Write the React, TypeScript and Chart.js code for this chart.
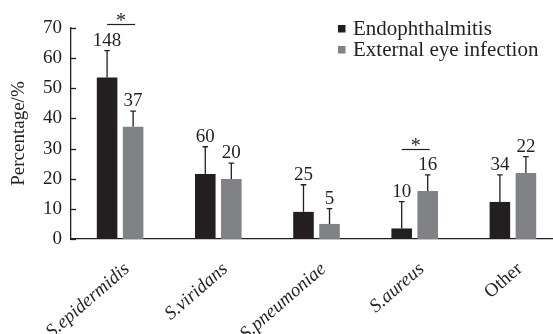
import React, { useEffect, useRef } from "react";
import { Chart, registerables } from "chart.js";

Chart.register(...registerables);

const categories = ["S.epidermidis", "S.viridans", "S.pneumoniae", "S.aureus", "Other"];
const seriesNames = ["Endophthalmitis", "External eye infection"];
const endoValues = [53.6, 21.6, 9.0, 3.5, 12.3];
const endoErrors = [8.9, 9.0, 9.0, 8.9, 9.0];
const endoCounts = [148, 60, 25, 10, 34];
const extValues = [37.2, 19.9, 5.0, 15.9, 21.9];
const extErrors = [5.2, 5.3, 5.1, 5.4, 5.4];
const extCounts = [37, 20, 5, 16, 22];
const sigCategories = ["S.epidermidis", "S.aureus"];
const sigLevels = [71.2, 29.8];
const yTicks = [0, 10, 20, 30, 40, 50, 60, 70];

const FONT = "'Liberation Serif', 'Times New Roman', serif";
const INK = "#231f20";
const GRAY = "#818285";

export default function App() {
  const ref = useRef<HTMLCanvasElement>(null);

  useEffect(() => {
    if (!ref.current) return;
    const errs = [endoErrors, extErrors];
    const counts = [endoCounts, extCounts];
    const colors = [INK, GRAY];

    const overlay = {
      id: "overlay",
      afterDatasetsDraw(chart: any) {
        const ctx = chart.ctx;
        const y = chart.scales.y;
        const area = chart.chartArea;
        ctx.save();
        // inward y ticks
        ctx.strokeStyle = INK;
        ctx.lineWidth = 1.3;
        yTicks.forEach((t) => {
          const py = Math.round(y.getPixelForValue(t)) + 0.5;
          ctx.beginPath();
          ctx.moveTo(area.left, py);
          ctx.lineTo(area.left + 5, py);
          ctx.stroke();
        });
        // error bars and counts
        ctx.font = `19px ${FONT}`;
        ctx.fillStyle = INK;
        ctx.textAlign = "center";
        ctx.textBaseline = "alphabetic";
        for (let d = 0; d < 2; d++) {
          const meta = chart.getDatasetMeta(d);
          const ds = chart.data.datasets[d].data as number[];
          meta.data.forEach((bar: any, i: number) => {
            const top = y.getPixelForValue(ds[i] + errs[d][i]);
            ctx.lineWidth = 1.3;
            ctx.beginPath();
            ctx.moveTo(bar.x, bar.y);
            ctx.lineTo(bar.x, top);
            ctx.moveTo(bar.x - 2.8, top);
            ctx.lineTo(bar.x + 2.8, top);
            ctx.stroke();
            ctx.fillText(String(counts[d][i]), bar.x, top - 5);
          });
        }
        // significance markers
        ctx.font = `20px ${FONT}`;
        sigCategories.forEach((c, k) => {
          const i = categories.indexOf(c);
          const b0 = chart.getDatasetMeta(0).data[i];
          const b1 = chart.getDatasetMeta(1).data[i];
          const py = Math.round(y.getPixelForValue(sigLevels[k])) + 0.5;
          ctx.lineWidth = 1.2;
          ctx.beginPath();
          ctx.moveTo(b0.x, py);
          ctx.lineTo(b1.x + 2, py);
          ctx.stroke();
          ctx.fillText("*", (b0.x + b1.x + 2) / 2, py + 2);
        });
        // legend
        ctx.font = `21px ${FONT}`;
        ctx.textAlign = "left";
        seriesNames.forEach((name, k) => {
          const ly = 29 + k * 21;
          ctx.fillStyle = colors[k];
          ctx.fillRect(338, ly - 4, 7.5, 7.5);
          ctx.fillStyle = INK;
          ctx.fillText(name, 353, ly + 5.5);
        });
        ctx.restore();
      },
    };

    const chart = new Chart(ref.current, {
      type: "bar",
      data: {
        labels: categories,
        datasets: [
          { label: seriesNames[0], data: endoValues, backgroundColor: INK },
          { label: seriesNames[1], data: extValues, backgroundColor: GRAY },
        ],
      },
      options: {
        animation: false,
        responsive: false,
        devicePixelRatio: 1,
        datasets: { bar: { categoryPercentage: 0.53, barPercentage: 0.79 } },
        layout: { padding: { top: 28, right: 8, left: 0, bottom: 0 } },
        plugins: { legend: { display: false }, tooltip: { enabled: false } },
        scales: {
          x: {
            grid: { display: false, drawTicks: false },
            border: { display: true, color: INK, width: 1.3 },
            ticks: {
              autoSkip: false,
              minRotation: 41,
              maxRotation: 41,
              padding: 19,
              labelOffset: 7,
              color: INK,
              font: (c: any) => ({ family: FONT, size: 19, style: c.index < 4 ? "italic" : "normal" }),
            },
            afterFit: (s: any) => {
              s.height = 95;
            },
          },
          y: {
            min: 0,
            max: 70,
            grid: { display: false, drawTicks: false },
            border: { display: true, color: INK, width: 1.3 },
            ticks: { stepSize: 10, padding: 9, color: INK, font: { family: FONT, size: 19 } },
            title: {
              display: true,
              text: "Percentage/%",
              color: INK,
              font: { family: FONT, size: 19 },
              padding: { top: 8, bottom: 0 },
            },
            afterFit: (s: any) => {
              s.width = 71;
            },
          },
        },
      },
      plugins: [overlay],
    });
    return () => chart.destroy();
  }, []);

  return (
    <div style={{ position: "absolute", left: 0, top: 0, width: 553, height: 334, overflow: "hidden", background: "#fff" }}>
      <canvas ref={ref} width={570} height={334} style={{ display: "block" }} />
    </div>
  );
}
